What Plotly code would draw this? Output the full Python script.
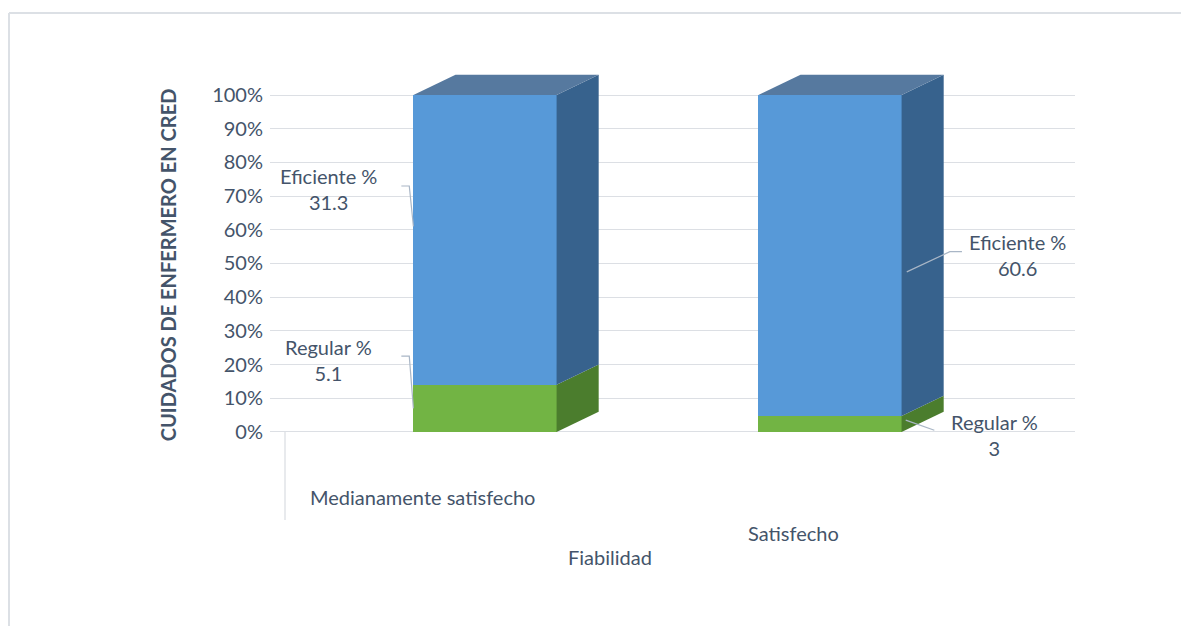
import plotly.graph_objects as go

# ---------------- data ----------------
categories = ["Medianamente satisfecho", "Satisfecho"]
series_names = ["Regular %", "Eficiente %"]
regular = [5.1, 3]
eficiente = [31.3, 60.6]
y_tick_values = [0, 10, 20, 30, 40, 50, 60, 70, 80, 90, 100]
y_tick_labels = ["0%", "10%", "20%", "30%", "40%", "50%", "60%", "70%", "80%", "90%", "100%"]
x_title = "Fiabilidad"
y_title = "CUIDADOS DE ENFERMERO EN CRED"

# ---------------- styling ----------------
FONT = "Lato"
FS = 20
TXT = "#44546A"
GRID = "#DCDFE4"
BW = 0.415          # bar width (x units)
DX = 0.122          # depth offset of the 3D faces (x units)
DY = 6.0            # depth offset of the 3D faces (y units)
FRONT = {"Regular %": "#72B444", "Eficiente %": "#5799D8"}
SIDE = {"Regular %": "#4B7D2D", "Eficiente %": "#37628D"}
TOP = {"Regular %": "#5E9A38", "Eficiente %": "#56799F"}
LEAD = "#A9B6C6"

# page geometry (screen pixels; the html body adds an 8px offset)
OFF = 8
W, H = 1189 - OFF, 626 - OFF
PL, PR, PT, PB = 270, 1075, 60, 470   # plot area on screen
L, T = PL - OFF, PT - OFF
R, B = W - (PR - OFF), H - (PB - OFF)
X0_PX, UNIT_PX = 485, 345            # x=0 position, px per category step
Y_RANGE = [-11.3, 110.4]


def sx(px):
    return (px - PL) / (PR - PL)


def sy(py):
    return (PB - py) / (PB - PT)


x_pos = list(range(len(categories)))
totals = [r + e for r, e in zip(regular, eficiente)]
reg_pct = [r / t * 100 for r, t in zip(regular, totals)]
efi_pct = [e / t * 100 for e, t in zip(eficiente, totals)]
pct = {"Regular %": reg_pct, "Eficiente %": efi_pct}
raw = {"Regular %": regular, "Eficiente %": eficiente}

fig = go.Figure()

# front faces (100% stacked bars)
for name in series_names:
    fig.add_trace(go.Bar(
        x=x_pos, y=pct[name], width=BW, name=name,
        marker=dict(color=FRONT[name], line=dict(width=0)),
        showlegend=False, hoverinfo="skip"))

# side + top faces derived from the stacked values
for i, xc in enumerate(x_pos):
    base = 0.0
    xl, xr = xc - BW / 2, xc + BW / 2
    for name in series_names:
        y0, y1 = base, base + pct[name][i]
        fig.add_trace(go.Scatter(
            x=[xr, xr + DX, xr + DX, xr, xr],
            y=[y0, y0 + DY, y1 + DY, y1, y0],
            fill="toself", fillcolor=SIDE[name], mode="lines",
            line=dict(width=0, color=SIDE[name]),
            showlegend=False, hoverinfo="skip"))
        base = y1
    top_name = series_names[-1]
    fig.add_trace(go.Scatter(
        x=[xl, xl + DX, xr + DX, xr, xl],
        y=[base, base + DY, base + DY, base, base],
        fill="toself", fillcolor=TOP[top_name], mode="lines",
        line=dict(width=0, color=TOP[top_name]),
        showlegend=False, hoverinfo="skip"))

annotations = []
lab_font = dict(family=FONT, size=FS, color=TXT)

# bar 0: labels on the left
for name, ty, ey in [("Eficiente %", 72.0, 61.0), ("Regular %", 21.5, 7.0)]:
    i = 0
    xl = x_pos[i] - BW / 2
    tx = xl - 0.245
    annotations.append(dict(x=tx, y=ty, xref="x", yref="y",
                            text=f"{name}<br>{raw[name][i]}", showarrow=False,
                            font=lab_font, align="center"))
    fig.add_trace(go.Scatter(
        x=[xl - 0.035, xl - 0.012, xl], y=[ty + 1, ty + 1, ey],
        mode="lines", line=dict(color=LEAD, width=1.2),
        showlegend=False, hoverinfo="skip"))

# bar 1: labels on the right
i = 1
xr = x_pos[i] + BW / 2
tx, ty = xr + 0.335, 52.5
annotations.append(dict(x=tx, y=ty, xref="x", yref="y",
                        text=f"Eficiente %<br>{raw['Eficiente %'][i]}",
                        showarrow=False, font=lab_font, align="center"))
fig.add_trace(go.Scatter(
    x=[tx - 0.16, tx - 0.195, xr + 0.015], y=[ty + 1, ty + 1, ty - 5],
    mode="lines", line=dict(color=LEAD, width=1.2),
    showlegend=False, hoverinfo="skip"))
tx, ty = xr + 0.27, -1.0
annotations.append(dict(x=tx, y=ty, xref="x", yref="y",
                        text=f"Regular %<br>{raw['Regular %'][i]}",
                        showarrow=False, font=lab_font, align="center"))
fig.add_trace(go.Scatter(
    x=[tx - 0.175, xr + 0.012], y=[ty + 1.5, 3.5],
    mode="lines", line=dict(color=LEAD, width=1.2),
    showlegend=False, hoverinfo="skip"))

# category labels and x title (screen positions of the reference)
for text, px, py in [(categories[0], 422, 497), (categories[1], 793, 533),
                     (x_title, 610, 557)]:
    annotations.append(dict(x=sx(px), y=sy(py), xref="paper", yref="paper",
                            xanchor="center", yanchor="middle",
                            text=text, showarrow=False, font=lab_font))

shapes = [
    dict(type="line", xref="paper", yref="paper",
         x0=sx(9), x1=sx(1200), y0=sy(13), y1=sy(13),
         line=dict(color="#DCE0E5", width=2)),
    dict(type="line", xref="paper", yref="paper",
         x0=sx(9), x1=sx(9), y0=sy(13), y1=sy(640),
         line=dict(color="#DCE0E5", width=2)),
    dict(type="line", xref="paper", yref="paper",
         x0=sx(285), x1=sx(285), y0=sy(432), y1=sy(520),
         line=dict(color="#DCDFE4", width=1.3)),
]

fig.update_layout(
    width=W, height=H,
    margin=dict(l=L, r=R, t=T, b=B, autoexpand=False),
    paper_bgcolor="white", plot_bgcolor="white",
    barmode="stack",
    font=dict(family=FONT, color=TXT),
    annotations=annotations,
    shapes=shapes,
    xaxis=dict(range=[(PL - X0_PX) / UNIT_PX, (PR - X0_PX) / UNIT_PX],
               showgrid=False, zeroline=False, showticklabels=False,
               showline=False, fixedrange=True),
    yaxis=dict(range=Y_RANGE, tickvals=y_tick_values,
               ticktext=y_tick_labels, showgrid=True, gridcolor=GRID,
               gridwidth=1.3, zeroline=False, showline=False,
               tickfont=dict(family=FONT, size=FS, color=TXT),
               ticks="", ticklabelstandoff=6,
               title=dict(text=f"<b>{y_title}</b>", standoff=30,
                          font=dict(family=FONT, size=FS, color=TXT))),
)

fig.write_html("out.html")
